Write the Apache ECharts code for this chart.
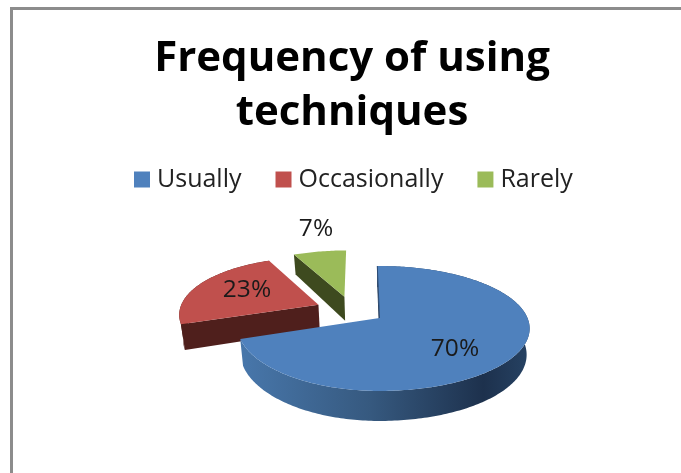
<!DOCTYPE html>
<html><head><meta charset="utf-8">
<style>html,body{margin:0;padding:0;background:#fff}#c{width:681px;height:473px}</style>
<script src="https://cdn.jsdelivr.net/npm/echarts@6/dist/echarts.min.js"></script>
</head><body><div id="c"></div>
<script>
const categories = ['Usually', 'Occasionally', 'Rarely'];
const values = [70, 23, 7];
const topColors = ['#4F81BD', '#C0504D', '#9BBB59'];
const wallColors = ['#1f3550', '#4F1F1C', '#3E4A1F'];
const explodeU = [0, -0.445, -0.26];
const explodeV = [0, -0.226, -0.37];
const labelX = [455, 247, 316];
const labelY = [349, 290, 229];

const CX = 379.5, CY = 318, R = 148, A = 60.7, K = 0.168, ROT = -1, SKEW = 7;
function project(u, v) {
  const d = 1 - K * v;
  const skew = u < 0 ? -u * Math.max(0, v + 1) * SKEW : 0;
  return [CX + R * u / d + skew, CY + A * v / d];
}
function lower(p, v) {
  return [CX + (p[0] - CX) * 0.98, p[1] + 25.5 + 4.5 * v];
}
const total = values.reduce((a, b) => a + b, 0);
function sliceRange(i) {
  let s = 0;
  for (let k = 0; k < i; k++) s += values[k];
  return [ROT + s / total * 360, ROT + (s + values[i]) / total * 360];
}
const rimGradient = {
  type: 'linear', x: 0, y: 0, x2: 1, y2: 0,
  colorStops: [
    {offset: 0, color: '#4877AB'}, {offset: 0.45, color: '#36597F'},
    {offset: 0.84, color: '#1d314d'}, {offset: 1, color: '#264263'}
  ]
};
function renderSlice(i) {
  return function (params, api) {
    const span = api.value(0) / total * 360;
    const a0 = sliceRange(i)[0], a1 = a0 + span;
    const eu = explodeU[i], ev = explodeV[i];
    const pt = (deg, r) => {
      const t = deg * Math.PI / 180;
      const u = eu + r * Math.sin(t), v = ev - r * Math.cos(t);
      return {p: project(u, v), v};
    };
    const tip = pt(0, 0);
    const arc = [];
    const n = Math.max(8, Math.round(span));
    for (let k = 0; k <= n; k++) arc.push(pt(a0 + (a1 - a0) * k / n, 1));
    const rimTop = arc.map(a => a.p);
    const rimBot = arc.map(a => lower(a.p, a.v));
    const children = [];
    // outer wall (the smallest slice shows none from this viewpoint)
    if (i !== 2) children.push({type: 'polygon', shape: {points: rimTop.concat(rimBot.slice().reverse())},
      style: {fill: i === 0 ? rimGradient : wallColors[i]}});
    // start-edge wall
    children.push({type: 'polygon',
      shape: {points: [tip.p, rimTop[0], rimBot[0], lower(tip.p, tip.v)]},
      style: {fill: wallColors[i]}});
    // top face
    children.push({type: 'polygon', shape: {points: [tip.p].concat(rimTop)},
      style: {fill: topColors[i]}});
    if (i === 0) children.push({type: 'polyline', shape: {points: [rimTop[0], tip.p]},
      style: {stroke: '#2b4a73', lineWidth: 1, fill: 'none'}});
    children.push({type: 'text', z2: 10, style: {
      x: labelX[i], y: labelY[i], text: api.value(0) + '%', align: 'center', verticalAlign: 'middle',
      font: '24.5px "Open Sans"', fill: '#1a1a1a'}});
    return {type: 'group', children};
  };
}
const chart = echarts.init(document.getElementById('c'), null, {renderer: 'canvas'});
const order = [1, 2, 0];
const seriesMap = {};
categories.forEach((name, i) => {
  seriesMap[i] = {
    type: 'custom', name, coordinateSystem: 'none', silent: true,
    itemStyle: {color: topColors[i]},
    data: [[values[i]]], renderItem: renderSlice(i), animation: false,
    z: i === 0 ? 3 : 2
  };
});
chart.setOption({
  backgroundColor: '#fff',
  animation: false,
  title: {
    text: 'Frequency of using\ntechniques', left: 347, top: 27, textAlign: 'center',
    textStyle: {fontFamily: 'Open Sans', fontWeight: 'bold', fontSize: 42, lineHeight: 54, color: '#000'}
  },
  legend: {
    data: categories, left: 129, top: 162, icon: 'rect', itemWidth: 16, itemHeight: 16,
    itemGap: 34, selectedMode: false,
    textStyle: {fontFamily: 'Open Sans', fontSize: 25, color: '#222', padding: [0, 0, 0, 2]}
  },
  graphic: [{type: 'polyline', silent: true, z: 100,
    shape: {points: [[11.5, 473], [11.5, 8.5], [681, 8.5]]},
    style: {stroke: '#8c8c8c', lineWidth: 3, fill: 'none'}}],
  series: order.map(i => seriesMap[i])
});
</script></body></html>
